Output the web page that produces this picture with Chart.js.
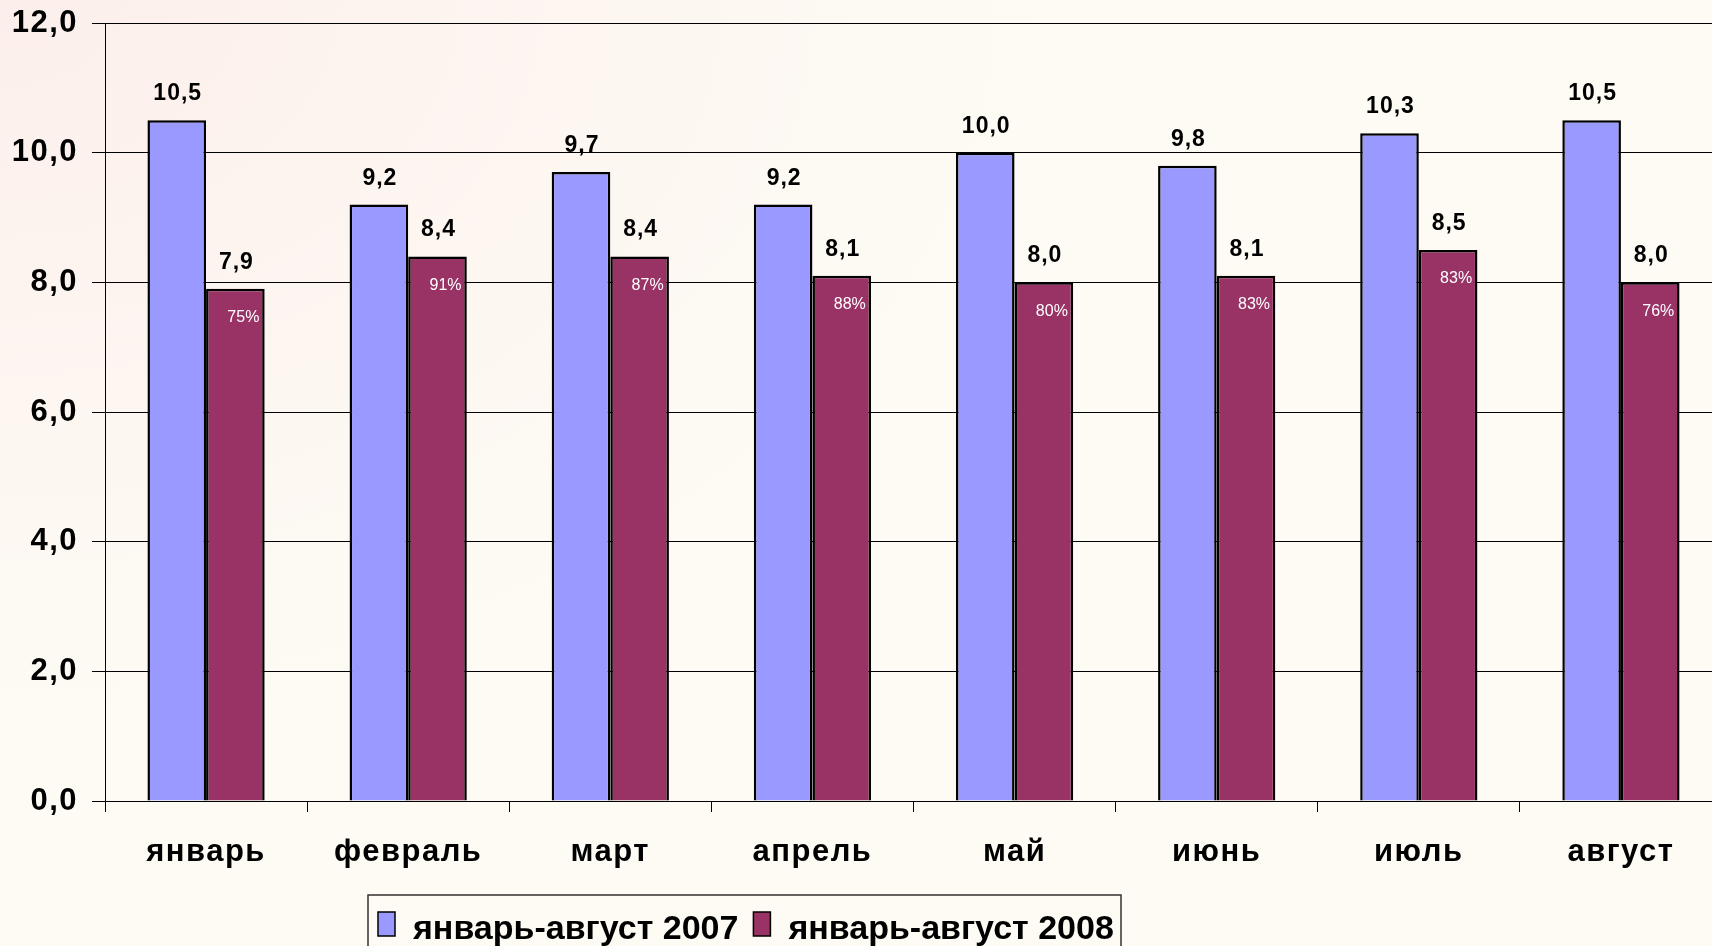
<!DOCTYPE html>
<html>
<head>
<meta charset="utf-8">
<script src="https://cdn.jsdelivr.net/npm/chart.js@4/dist/chart.umd.min.js"></script>
<style>
  html, body { margin: 0; padding: 0; overflow: hidden; }
  body {
    width: 1712px; height: 946px;
    background: radial-gradient(ellipse 1300px 900px at 0 0, #fcefeb 0%, #fdf6f1 45%, #fdfbf4 80%);
  }
  canvas { display: block; }
</style>
</head>
<body>
<canvas id="canvas" width="1722" height="946"></canvas>
<script>
var months = ['январь', 'февраль', 'март', 'апрель', 'май', 'июнь', 'июль', 'август'];
var values2007 = [10.5, 9.2, 9.7, 9.2, 10.0, 9.8, 10.3, 10.5];
var values2008 = [7.9, 8.4, 8.4, 8.1, 8.0, 8.1, 8.5, 8.0];
var percents = [75, 91, 87, 88, 80, 83, 83, 76];
var seriesNames = ['январь-август 2007', 'январь-август 2008'];
var colors = ['#9999ff', '#993366'];
var FONT = '"Liberation Sans", Arial, sans-serif';

function fmt(v) {
	return v.toFixed(1).replace('.', ',');
}

// value labels above bars, percent labels inside 2008 bars, legend
var barLabels = {
	id: 'barLabels',
	beforeDraw: function(chart) {
		chart.ctx.letterSpacing = '1.5px';
	},
	afterDatasetsDraw: function(chart) {
		var ctx = chart.ctx;
		ctx.save();
		ctx.textAlign = 'center';
		ctx.fillStyle = '#000';
		ctx.font = 'bold 23px ' + FONT;
		ctx.letterSpacing = '1px';
		ctx.textBaseline = 'alphabetic';
		chart.data.datasets.forEach(function(ds, i) {
			chart.getDatasetMeta(i).data.forEach(function(bar, j) {
				ctx.fillText(fmt(ds.data[j]), bar.x + 1, bar.y - 20);
			});
		});
		ctx.fillStyle = '#fff';
		ctx.font = '16px ' + FONT;
		ctx.letterSpacing = '0px';
		ctx.textBaseline = 'middle';
		chart.getDatasetMeta(1).data.forEach(function(bar, j) {
			ctx.fillText(percents[j] + '%', bar.x + 8, bar.y + 29);
		});
		ctx.restore();
	},
	afterDraw: function(chart) {
		var ctx = chart.ctx;
		ctx.save();
		ctx.letterSpacing = '0px';
		ctx.strokeStyle = '#333';
		ctx.lineWidth = 1.5;
		ctx.strokeRect(368, 895, 753, 70);
		ctx.font = 'bold 34px ' + FONT;
		ctx.textBaseline = 'alphabetic';
		ctx.textAlign = 'left';
		var x = 378;
		seriesNames.forEach(function(name, i) {
			ctx.fillStyle = colors[i];
			ctx.fillRect(x, 912, 17, 24);
			ctx.strokeStyle = '#000';
			ctx.strokeRect(x, 912, 17, 24);
			ctx.fillStyle = '#000';
			ctx.fillText(name, x + 35, 939);
			x += 35 + ctx.measureText(name).width + 15;
		});
		ctx.restore();
	}
};

var ctx = document.getElementById('canvas').getContext('2d');
var chart = new Chart(ctx, {
	type: 'bar',
	data: {
		labels: months,
		datasets: [{
			label: seriesNames[0],
			data: values2007,
			backgroundColor: colors[0],
			borderColor: '#000',
			borderWidth: 2.5
		}, {
			label: seriesNames[1],
			data: values2008,
			backgroundColor: colors[1],
			borderColor: '#000',
			borderWidth: 2.5
		}]
	},
	options: {
		responsive: false,
		animation: false,
		layout: { padding: { top: 23, left: 0, right: 0, bottom: 0 } },
		datasets: {
			bar: { categoryPercentage: 0.58, barPercentage: 1.0 }
		},
		plugins: {
			legend: { display: false },
			title: { display: false },
			tooltip: { enabled: false }
		},
		scales: {
			x: {
				afterFit: function(scale) {
					scale.height = 145;
					scale.paddingLeft = 0;
					scale.paddingRight = 0;
				},
				grid: {
					drawOnChartArea: false,
					color: '#000',
					tickLength: 11,
					offset: true
				},
				border: { color: '#000', width: 1 },
				ticks: {
					color: '#000',
					padding: 22,
					maxRotation: 0,
					autoSkip: false,
					font: { family: FONT, size: 31, weight: 'bold' }
				}
			},
			y: {
				min: 0,
				max: 12,
				afterFit: function(scale) {
					scale.width = 105;
					scale.paddingTop = 0;
					scale.paddingBottom = 0;
				},
				grid: { color: '#000', lineWidth: 1, tickLength: 13 },
				border: { color: '#000', width: 1 },
				ticks: {
					stepSize: 2,
					color: '#000',
					padding: 14,
					font: { family: FONT, size: 31, weight: 'bold' },
					callback: function(v) { return fmt(v); }
				}
			}
		}
	},
	plugins: [barLabels]
});
</script>
</body>
</html>
